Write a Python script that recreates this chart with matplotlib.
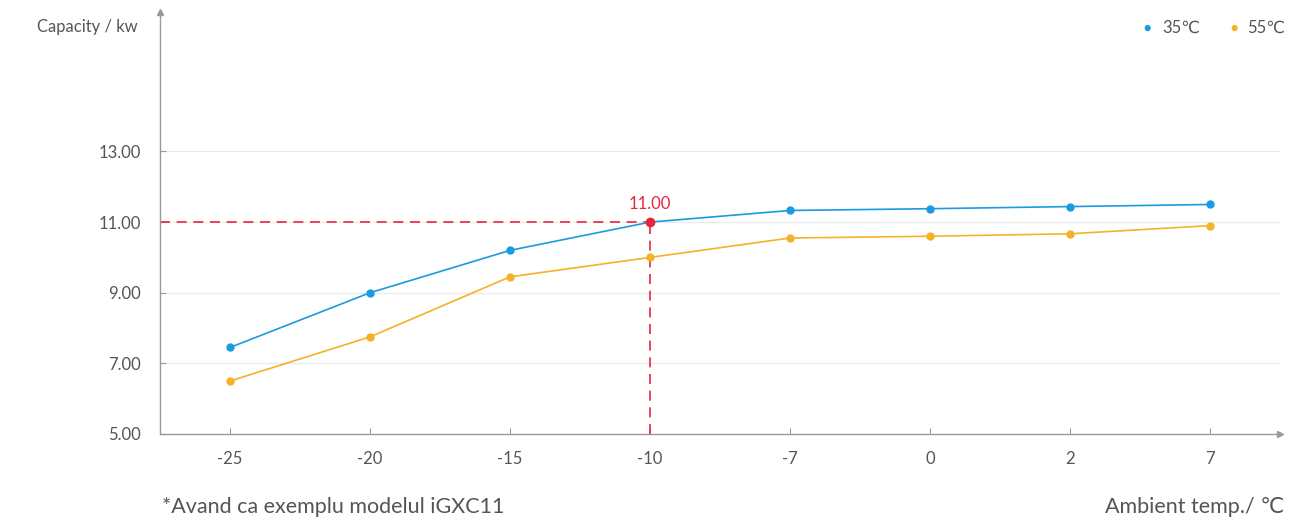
import matplotlib.pyplot as plt
import numpy as np

plt.rcParams['font.family'] = ['Lato', 'DejaVu Sans']

temps = ['-25', '-20', '-15', '-10', '-7', '0', '2', '7']
cap_35 = [7.45, 9.0, 10.2, 11.0, 11.33, 11.38, 11.44, 11.5]
cap_55 = [6.5, 7.75, 9.45, 10.0, 10.55, 10.6, 10.67, 10.9]
y_ticks = [5, 7, 9, 11, 13]
mark_idx = 3  # -10 degree point highlighted

blue = '#1a9be0'
orange = '#f5b227'
red = '#e8253f'
grey_text = '#555555'
axis_grey = '#999999'

fig = plt.figure(figsize=(12.95, 5.2), dpi=100)
ax = fig.add_axes([160 / 1295, (520 - 434) / 520, (1280 - 160) / 1295, (434 - 12) / 520])

x = np.arange(len(temps))
ax.plot(x, cap_35, color=blue, lw=1.2, marker='o', ms=5, zorder=3)
ax.plot(x, cap_55, color=orange, lw=1.2, marker='o', ms=5, zorder=3)

ax.set_xlim(-0.5, len(temps) - 0.5)
ax.set_ylim(5, 16.95)

# highlighted value
xm, ym = x[mark_idx], cap_35[mark_idx]
ax.plot([-0.5, xm], [ym, ym], color=red, lw=1.2, ls=(0, (6, 4)), zorder=2)
ax.plot([xm, xm], [5, ym], color=red, lw=1.2, ls=(0, (6, 4)), zorder=2)
ax.plot(xm, ym, 'o', color=red, ms=6, zorder=4)
ax.annotate(f'{ym:.2f}', (xm, ym), xytext=(0, 7), textcoords='offset points',
            ha='center', va='bottom', color=red, fontsize=12)

# grid
for yv in y_ticks[1:]:
    ax.axhline(yv, color='#ebebeb', lw=0.9, zorder=0)

ax.set_xticks(x)
ax.set_xticklabels(temps)
ax.set_yticks(y_ticks)
ax.set_yticklabels([f'{v:.2f}' for v in y_ticks])
ax.tick_params(axis='both', direction='in', length=4, color=axis_grey,
               labelcolor=grey_text, labelsize=12)
ax.tick_params(axis='x', pad=12)
ax.tick_params(axis='y', pad=14)

for s in ['top', 'right']:
    ax.spines[s].set_visible(False)
for s in ['left', 'bottom']:
    ax.spines[s].set_color(axis_grey)
    ax.spines[s].set_linewidth(1.0)

# axis arrows
ax.plot(1, 0, '>', color=axis_grey, ms=4, transform=ax.transAxes, clip_on=False)
ax.plot(0, 1, '^', color=axis_grey, ms=4, transform=ax.transAxes, clip_on=False)

fig.text(37 / 1295, 1 - 27 / 520, 'Capacity / kw', ha='left', va='center',
         color=grey_text, fontsize=12)

# legend
fig.text(1147 / 1295, 1 - 28 / 520, '●', color=blue, ha='center', va='center', fontsize=9)
fig.text(1162 / 1295, 1 - 28 / 520, '35℃', color=grey_text, ha='left', va='center', fontsize=12)
fig.text(1234 / 1295, 1 - 28 / 520, '●', color=orange, ha='center', va='center', fontsize=9)
fig.text(1247 / 1295, 1 - 28 / 520, '55℃', color=grey_text, ha='left', va='center', fontsize=12)

fig.text(162 / 1295, 1 - 507 / 520, '*Avand ca exemplu modelul iGXC11', ha='left', va='center',
         color=grey_text, fontsize=15.5)
fig.text(1284 / 1295, 1 - 507 / 520, 'Ambient temp./ ℃', ha='right', va='center',
         color=grey_text, fontsize=15.5)

fig.savefig('out.png', dpi=100)
